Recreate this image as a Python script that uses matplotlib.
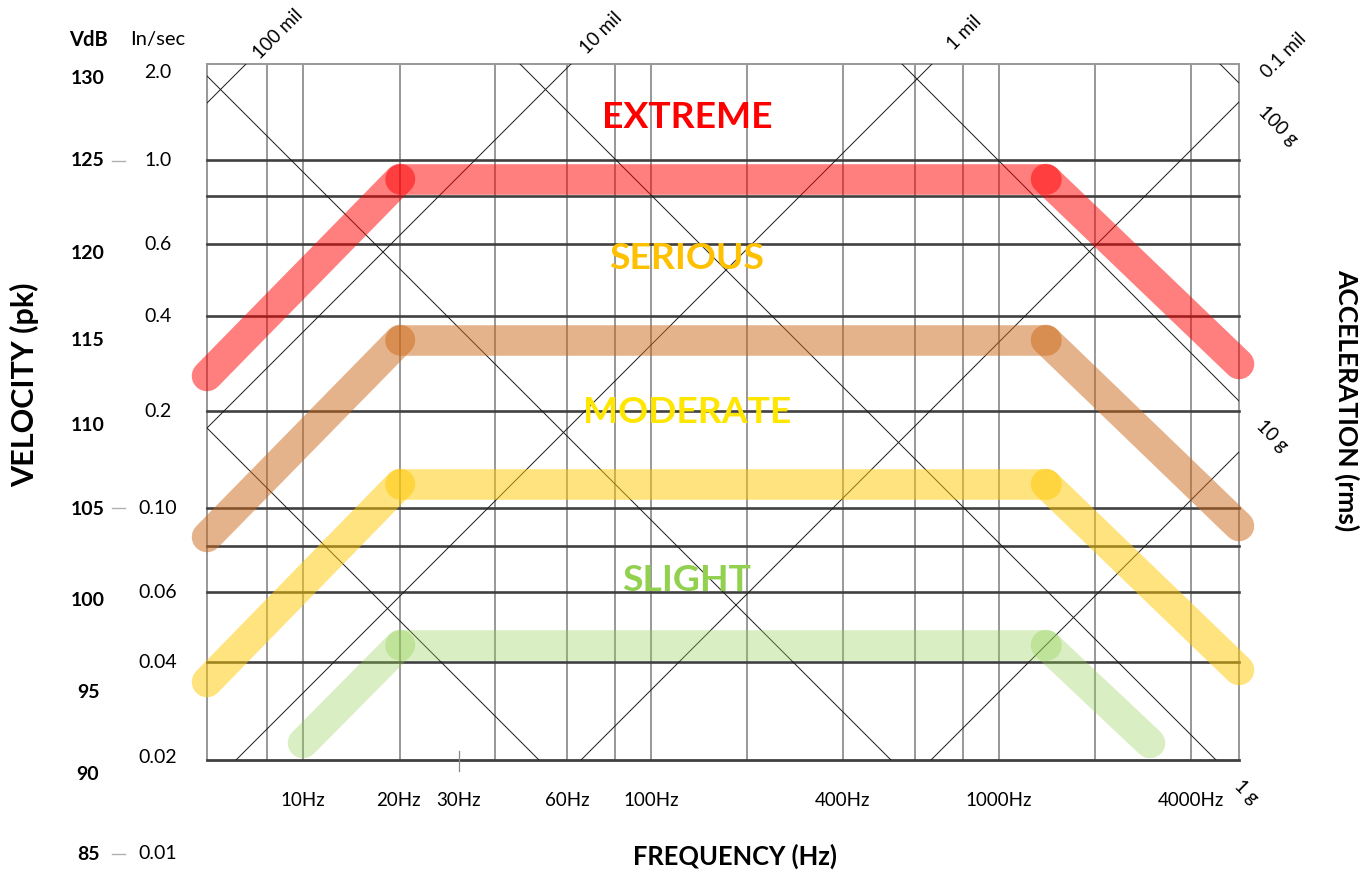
import matplotlib
matplotlib.use("Agg")
import matplotlib.pyplot as plt
from matplotlib.patches import Rectangle

plt.rcParams['font.family'] = ['Lato', 'DejaVu Sans']

# ---- chart frame (nomograph units, origin top-left) ----
frame_left, frame_right = 207, 1239
frame_top, frame_bottom = 64, 760

# vertical frequency grid lines
vgrid_x = [267, 303, 400, 495, 567, 615, 651, 747, 843, 915, 963, 999, 1095, 1191]
# horizontal velocity grid lines
hgrid_y = [160, 196, 244, 316, 411, 508, 546, 592, 662]

# frequency labels
freq_labels = ['10Hz', '20Hz', '30Hz', '60Hz', '100Hz', '400Hz', '1000Hz', '4000Hz']
freq_label_x = [303, 398, 459, 567, 651, 843, 999, 1191]
minor_tick_x = [459]

# velocity scales
vdb_labels = ['130', '125', '120', '115', '110', '105', '100', '95', '90', '85']
vdb_y = [78, 161, 253, 340, 425, 509, 600, 692, 774, 854]
ips_labels = ['2.0', '1.0', '0.6', '0.4', '0.2', '0.10', '0.06', '0.04', '0.02', '0.01']
ips_y = [73, 160, 244, 316, 411, 508, 592, 662, 757, 853]
dash_y = [161, 508, 854]

# constant-displacement lines (x + y = const) and constant-acceleration lines (x - y = const)
displacement_const = [310, 635, 996, 1341, 1691]
acceleration_const = [-221, 131, 456, 838, 1156]

displacement_labels = ['100 mil', '10 mil', '1 mil', '0.1 mil']
displacement_label_xy = [(278, 34), (601, 33), (964, 33), (1284, 55)]
acceleration_labels = ['100 g', '10 g', '1 g']
acceleration_label_xy = [(1278, 126), (1272, 436), (1246, 792)]

# severity bands: vertex paths
band_extreme = [(207, 376), (400, 179), (1046, 179), (1239, 364)]
band_serious = [(207, 537), (400, 340), (1046, 340), (1239, 526)]
band_moderate = [(207, 682), (400, 484), (1046, 484), (1239, 670)]
band_slight = [(303, 743), (400, 645), (1046, 645), (1150, 743)]

severity_names = ['EXTREME', 'SERIOUS', 'MODERATE', 'SLIGHT']
severity_text_colors = ['#FF0000', '#FFC000', '#FFE600', '#92D050']
severity_text_y = [118, 258, 412, 580]
severity_band_colors = ['#FF0000', '#CD6919', '#FFC800', '#92D050']
severity_band_alpha = [0.5, 0.5, 0.5, 0.35]
severity_bands = [band_extreme, band_serious, band_moderate, band_slight]

fig = plt.figure(figsize=(13.68, 8.72), dpi=100)
ax = fig.add_axes([0, 0, 1, 1])
ax.set_xlim(0, 1368)
ax.set_ylim(872, 0)
ax.axis('off')

grey = '#9a9a9a'
dark = '#404040'

# grid
for x in vgrid_x:
    ax.plot([x, x], [frame_top, frame_bottom], color=grey, lw=1.45, zorder=1)
for y in hgrid_y:
    ax.plot([frame_left, frame_right], [y, y], color=dark, lw=1.9, zorder=1.2)
ax.plot([frame_left, frame_left], [frame_top, frame_bottom], color=grey, lw=1.45, zorder=1)
ax.plot([frame_right, frame_right], [frame_top, frame_bottom], color=grey, lw=1.45, zorder=1)
ax.plot([frame_left, frame_right], [frame_top, frame_top], color=grey, lw=1.45, zorder=1)
ax.plot([frame_left, frame_right], [frame_bottom, frame_bottom], color=dark, lw=2.0, zorder=1.2)
for x in minor_tick_x:
    ax.plot([x, x], [frame_bottom - 9, frame_bottom + 11], color='#888888', lw=0.9)

# diagonal reference lines, clipped to the frame
clip = Rectangle((frame_left, frame_top), frame_right - frame_left, frame_bottom - frame_top,
                 transform=ax.transData, fill=False, lw=0)
ax.add_patch(clip)
for c in displacement_const:
    ln, = ax.plot([c - 1000, c + 1000], [1000, -1000], color='#1a1a1a', lw=0.7, zorder=1.5)
    ln.set_clip_path(clip)
for c in acceleration_const:
    ln, = ax.plot([c - 1000, c + 1000], [-1000, 1000], color='#1a1a1a', lw=0.7, zorder=1.5)
    ln.set_clip_path(clip)

# severity bands
for pts, col, a in zip(severity_bands, severity_band_colors, severity_band_alpha):
    for (x0, y0), (x1, y1) in zip(pts[:-1], pts[1:]):
        ax.plot([x0, x1], [y0, y1], color=col, alpha=a, lw=22,
                solid_capstyle='round', zorder=3)

for name, col, y in zip(severity_names, severity_text_colors, severity_text_y):
    ax.text(687, y, name, color=col, fontsize=26.8, fontweight='bold',
            ha='center', va='center', zorder=4)

# scales
ax.text(88, 40, 'VdB', fontsize=14.5, fontweight='bold', ha='center', va='center')
ax.text(158, 40, 'In/sec', fontsize=14.5, ha='center', va='center')
for lab, y in zip(vdb_labels, vdb_y):
    ax.text(88, y, lab, fontsize=14, fontweight='bold', ha='center', va='center')
for lab, y in zip(ips_labels, ips_y):
    ax.text(158, y, lab, fontsize=14, ha='center', va='center')
for y in dash_y:
    ax.plot([112, 125], [y, y], color='#b0b0b0', lw=1.0)

for lab, x in zip(freq_labels, freq_label_x):
    ax.text(x, 800, lab, fontsize=13.5, ha='center', va='center')

for lab, (x, y) in zip(displacement_labels, displacement_label_xy):
    ax.text(x, y, lab, fontsize=13.5, rotation=45, ha='center', va='center',
            rotation_mode='anchor')
for lab, (x, y) in zip(acceleration_labels, acceleration_label_xy):
    ax.text(x, y, lab, fontsize=13.5, rotation=-45, ha='center', va='center',
            rotation_mode='anchor')

# axis titles
ax.text(25, 385, 'VELOCITY (pk)', fontsize=22, fontweight='bold', rotation=90,
        ha='center', va='center')
ax.text(1347, 400, 'ACCELERATION (rms)', fontsize=19, fontweight='bold', rotation=-90,
        ha='center', va='center')
ax.text(735, 856, 'FREQUENCY (Hz)', fontsize=18.4, fontweight='bold', ha='center', va='center')

fig.savefig('out.png', dpi=100)
